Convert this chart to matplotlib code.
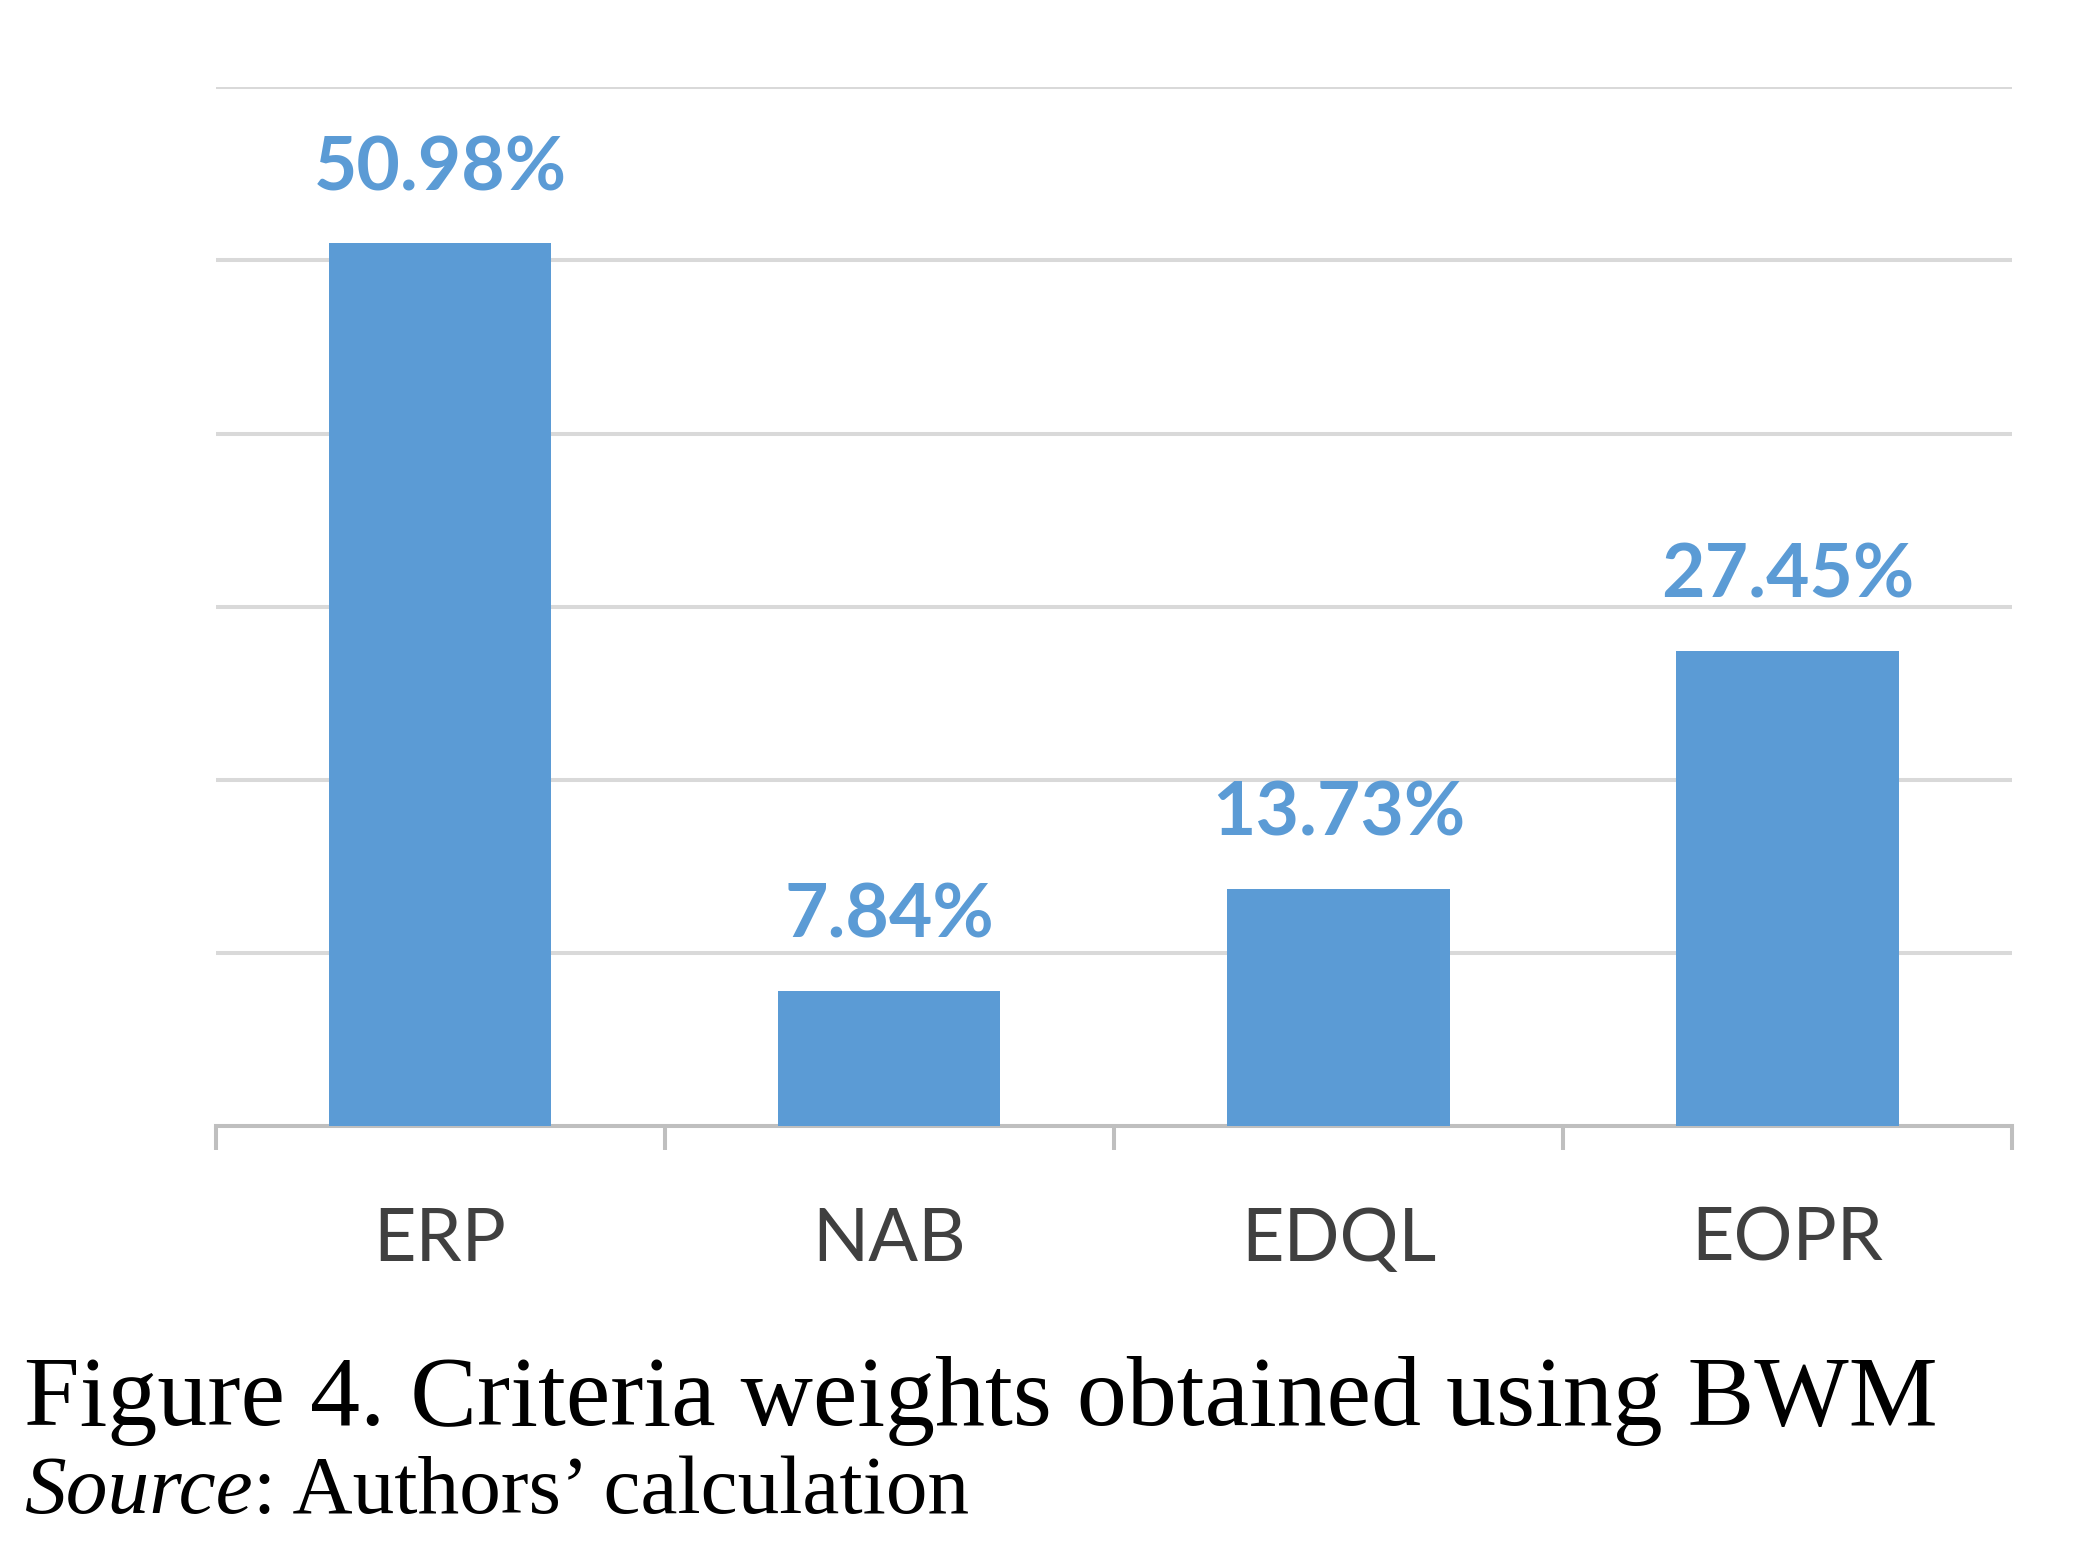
import matplotlib
matplotlib.use("Agg")
import matplotlib.pyplot as plt

categories = ["ERP", "NAB", "EDQL", "EOPR"]
weights = [50.98, 7.84, 13.73, 27.45]
value_labels = ["50.98%", "7.84%", "13.73%", "27.45%"]
yticks = [0, 10, 20, 30, 40, 50, 60]

fig = plt.figure(figsize=(20.73, 15.45), dpi=100)
ax = fig.add_axes([0.104, 0.271, 0.8666, 0.6726])

bar_color = "#5B9BD5"
x = list(range(len(categories)))
ax.bar(x, weights, width=0.495, color=bar_color, zorder=3)

ax.set_xlim(-0.5, len(categories) - 0.5)
ax.set_ylim(0, 60)
ax.set_yticks(yticks)
ax.yaxis.grid(True, color="#D9D9D9", linewidth=2.9, zorder=0)
ax.tick_params(axis="y", left=False, labelleft=False)
for s in ["top", "right", "left"]:
    ax.spines[s].set_visible(False)
ax.spines["bottom"].set_color("#BFBFBF")
ax.spines["bottom"].set_linewidth(2.9)

ax.set_xticks([i - 0.5 for i in range(len(categories) + 1)], minor=False)
ax.set_xticklabels([])
ax.tick_params(axis="x", which="major", direction="out", length=17, width=2.9, color="#BFBFBF")
ax.set_xticks(x, minor=True)
ax.set_xticklabels(categories, minor=True, fontsize=53, family="Lato", color="#404040")
ax.tick_params(axis="x", which="minor", length=0, pad=58)

for xi, w, lab in zip(x, weights, value_labels):
    ax.annotate(lab, (xi, w), xytext=(0, 40), textcoords="offset pixels",
                ha="center", va="bottom", fontsize=54, fontweight="bold",
                family="Lato", color="#5B9BD5")

fig.text(0.0116, 0.0777, "Figure 4. Criteria weights obtained using BWM",
         family="Liberation Serif", fontsize=72, color="black", va="baseline")
t = fig.text(0.0116, 0.021, "Source", family="Liberation Serif", style="italic",
             fontsize=60, va="baseline")
fig.canvas.draw()
bb = t.get_window_extent()
fig.text(bb.x1 / fig.bbox.width, 0.021, ": Authors\u2019 calculation",
         family="Liberation Serif", fontsize=60, va="baseline")

fig.savefig("out.png", dpi=100, facecolor="white")
